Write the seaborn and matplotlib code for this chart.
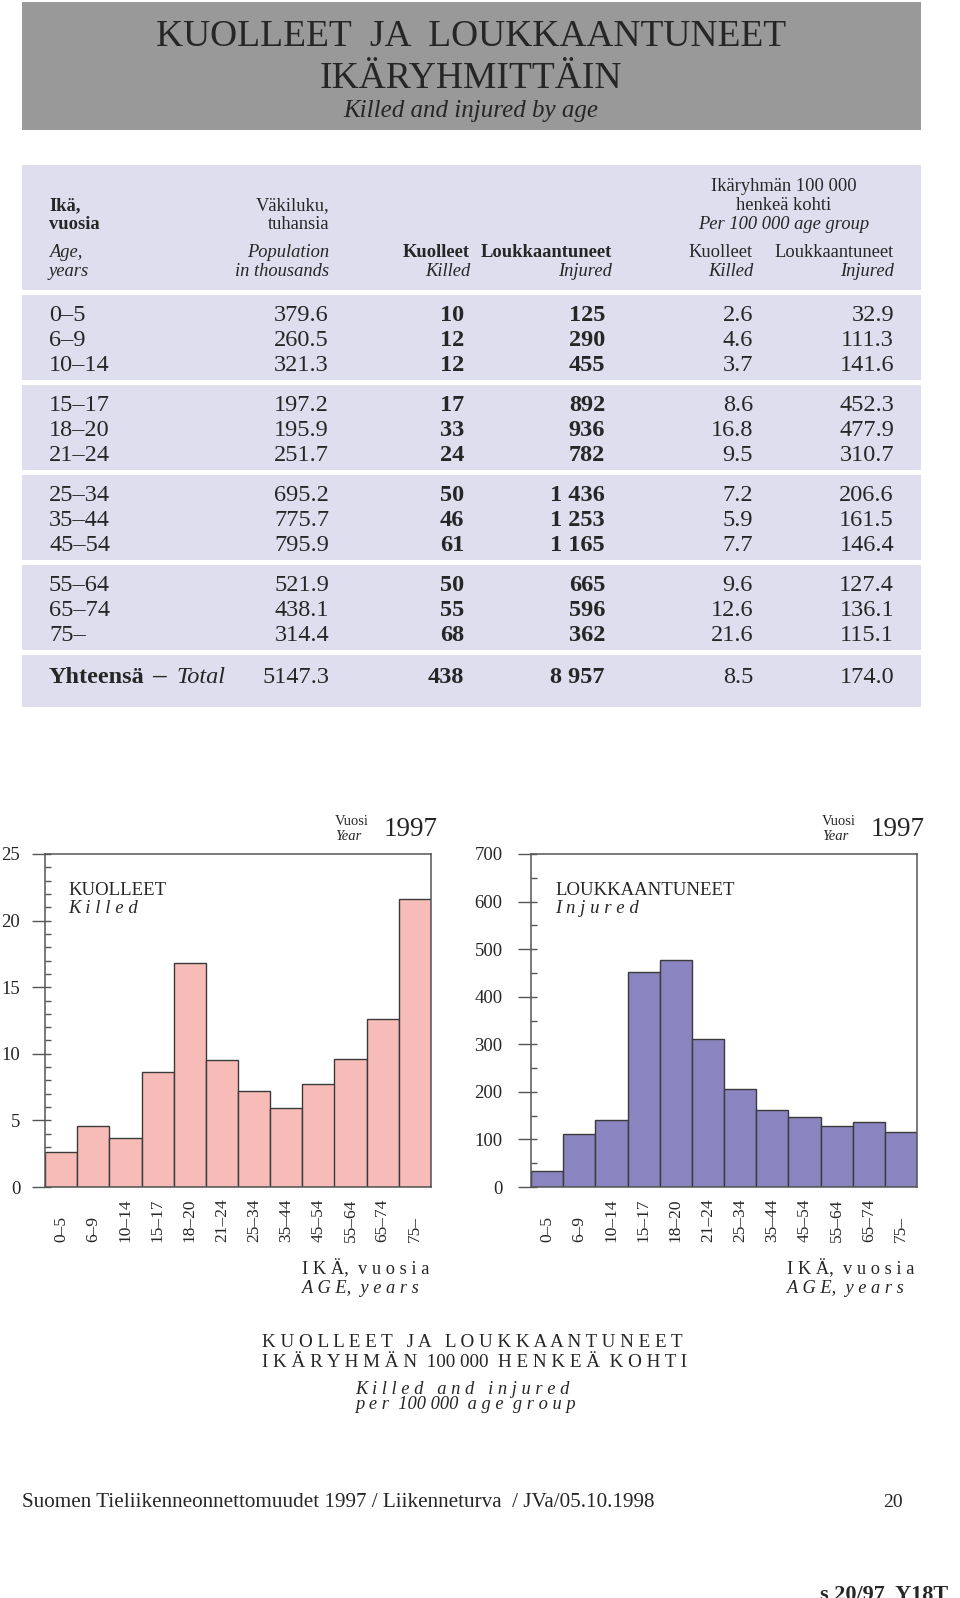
import matplotlib
matplotlib.use("Agg")
import matplotlib.pyplot as plt
from matplotlib.patches import Rectangle
from matplotlib.ticker import MultipleLocator
import seaborn as sns

# --- data (Suomen tieliikenneonnettomuudet 1997) ---
ages = ["0–5", "6–9", "10–14", "15–17", "18–20", "21–24",
        "25–34", "35–44", "45–54", "55–64", "65–74", "75–"]
population = [379.6, 260.5, 321.3, 197.2, 195.9, 251.7,
              695.2, 775.7, 795.9, 521.9, 438.1, 314.4]
killed = [10, 12, 12, 17, 33, 24, 50, 46, 61, 50, 55, 68]
injured = [125, 290, 455, 892, 936, 782, 1436, 1253, 1165, 665, 596, 362]
killed_rate = [2.6, 4.6, 3.7, 8.6, 16.8, 9.5, 7.2, 5.9, 7.7, 9.6, 12.6, 21.6]
injured_rate = [32.9, 111.3, 141.6, 452.3, 477.9, 310.7,
                206.6, 161.5, 146.4, 127.4, 136.1, 115.1]
total_population = 5147.3
total_killed = 438
total_injured = 8957
total_killed_rate = 8.5
total_injured_rate = 174.0

sns.set_style("ticks")
plt.rcParams["font.family"] = ["Liberation Serif", "DejaVu Serif"]

W, H = 960, 1598
fig = plt.figure(figsize=(W / 100, H / 100), dpi=100)


def fx(x):
    return x / W


def fy(y):
    return 1 - y / H


def txt(x, y, s, size, ha="left", weight="normal", style="normal", va="baseline"):
    fig.text(fx(x), fy(y), s, fontsize=size, ha=ha, va=va,
             fontweight=weight, fontstyle=style)


def box(x0, y0, x1, y1, color):
    fig.add_artist(Rectangle((fx(x0), fy(y1)), (x1 - x0) / W, (y1 - y0) / H,
                             transform=fig.transFigure, color=color, zorder=0, lw=0))


def fmt_int(v):
    return f"{v:,}".replace(",", " ")


# --- title block ---
box(22, 2, 921, 130, "#999999")
txt(471, 46, "KUOLLEET  JA  LOUKKAANTUNEET", 27, ha="center")
txt(471, 88, "IKÄRYHMITTÄIN", 27, ha="center")
txt(471, 117, "Killed and injured by age", 18, ha="center", style="italic")

# --- table ---
lav = "#dedeee"
box(22, 165, 921, 290, lav)
for g in range(4):
    box(22, 295 + 90 * g, 921, 380 + 90 * g, lav)
box(22, 655, 921, 707, lav)

hs = 13.3
c_age, c_pop, c_k, c_i, c_kr, c_ir = 49, 329, 464, 605, 753, 894
txt(784, 191, "Ikäryhmän 100 000", hs, ha="center")
txt(784, 210, "henkeä kohti", hs, ha="center")
txt(784, 229, "Per 100 000 age group", hs, ha="center", style="italic")
txt(c_age, 210, "Ikä,", hs, weight="bold")
txt(c_age, 229, "vuosia", hs, weight="bold")
txt(c_pop, 210, "Väkiluku,", hs, ha="right")
txt(c_pop, 229, "tuhansia", hs, ha="right")
txt(c_age, 257, "Age,", hs, style="italic")
txt(c_age, 276, "years", hs, style="italic")
txt(c_pop, 257, "Population", hs, ha="right", style="italic")
txt(c_pop, 276, "in thousands", hs, ha="right", style="italic")
txt(470, 257, "Kuolleet", hs, ha="right", weight="bold")
txt(470, 276, "Killed", hs, ha="right", style="italic")
txt(612, 257, "Loukkaantuneet", hs, ha="right", weight="bold")
txt(612, 276, "Injured", hs, ha="right", style="italic")
txt(c_kr, 257, "Kuolleet", hs, ha="right")
txt(c_kr, 276, "Killed", hs, ha="right", style="italic")
txt(c_ir, 257, "Loukkaantuneet", hs, ha="right")
txt(c_ir, 276, "Injured", hs, ha="right", style="italic")

ns = 17.5
for i, a in enumerate(ages):
    y = 321 + 90 * (i // 3) + 25 * (i % 3)
    txt(c_age, y, a, ns)
    txt(c_pop, y, f"{population[i]:.1f}", ns, ha="right")
    txt(c_k, y, fmt_int(killed[i]), ns, ha="right", weight="bold")
    txt(c_i, y, fmt_int(injured[i]), ns, ha="right", weight="bold")
    txt(c_kr, y, f"{killed_rate[i]:.1f}", ns, ha="right")
    txt(c_ir, y, f"{injured_rate[i]:.1f}", ns, ha="right")

ty = 683
txt(c_age, ty, "Yhteensä", ns, weight="bold")
txt(152, ty, "–", ns + 2, weight="bold")
txt(176, ty, "Total", ns, style="italic")
txt(c_pop, ty, f"{total_population:.1f}", ns, ha="right")
txt(c_k, ty, fmt_int(total_killed), ns, ha="right", weight="bold")
txt(c_i, ty, fmt_int(total_injured), ns, ha="right", weight="bold")
txt(c_kr, ty, f"{total_killed_rate:.1f}", ns, ha="right")
txt(c_ir, ty, f"{total_injured_rate:.1f}", ns, ha="right")

# --- charts ---
edge = "#3a3a3a"
spine = "#555555"


def bar_chart(left, values, color, ymax, major, minor, label_pad):
    ax = fig.add_axes([fx(left), fy(1187), 386 / W, 333 / H])
    sns.barplot(x=ages, y=values, color=color, saturation=1, width=1,
                edgecolor=edge, linewidth=1, ax=ax)
    ax.set_xlim(-0.5, 11.5)
    ax.set_ylim(0, ymax)
    ax.set_xlabel("")
    ax.set_ylabel("")
    ax.yaxis.set_major_locator(MultipleLocator(major))
    ax.yaxis.set_minor_locator(MultipleLocator(minor))
    ax.yaxis.remove_overlapping_locs = False
    ax.tick_params(axis="y", which="major", direction="out", length=9.4,
                   width=1, color=spine, labelsize=13.5, pad=label_pad)
    ax.tick_params(axis="y", which="minor", direction="in", length=4.3,
                   width=1, color=spine)
    ax.tick_params(axis="x", length=0, labelsize=12.5, pad=39.6)
    for lab in ax.get_xticklabels():
        lab.set_rotation(90)
        lab.set_va("bottom")
    for s in ax.spines.values():
        s.set_color(spine)
        s.set_linewidth(1.1)
    ax.set_facecolor("white")
    return ax


bar_chart(45, killed_rate, "#f7bcb8", 25, 5, 1, 8.5)
bar_chart(531, injured_rate, "#8a84c0", 700, 100, 50, 11)

for x0, name, sub in [(68, "KUOLLEET", "K i l l e d"),
                      (555, "LOUKKAANTUNEET", "I n j u r e d")]:
    txt(x0, 895, name, 13.5)
    txt(x0, 913, sub, 13.5, style="italic")

for xv, xy, xa in [(335, 384, 302), (822, 871, 787)]:
    txt(xv, 825, "Vuosi", 10.5)
    txt(xv, 840, "Year", 10.5, style="italic")
    txt(xy, 836, "1997", 19.5)
    txt(xa, 1274, "I K Ä,  v u o s i a", 13.2)
    txt(xa, 1293, "A G E,  y e a r s", 13.2, style="italic")

# --- bottom captions ---
txt(262, 1347, "K U O L L E E T   J A   L O U K K A A N T U N E E T", 13.8)
txt(262, 1367, "I K Ä R Y H M Ä N  100 000  H E N K E Ä  K O H T I", 13.8)
txt(355, 1394, "K i l l e d   a n d   i n j u r e d", 13.3, style="italic")
txt(355, 1409, "p e r  100 000  a g e  g r o u p", 13.3, style="italic")

txt(22, 1507, "Suomen Tieliikenneonnettomuudet 1997 / Liikenneturva  / JVa/05.10.1998", 15.2)
txt(903, 1507, "20", 14, ha="right")
txt(820, 1600, "s 20/97  Y18T", 16, weight="bold")

fig.savefig("out.png", dpi=100)
